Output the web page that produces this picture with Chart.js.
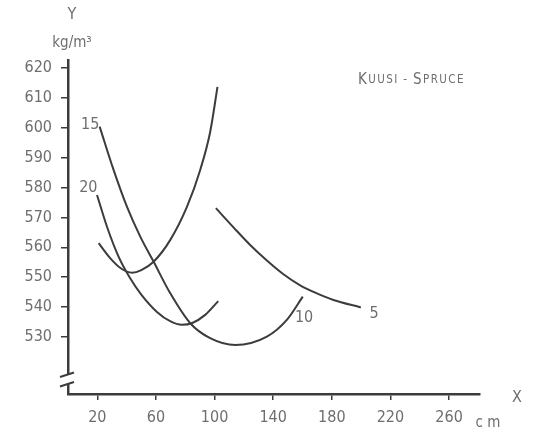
<!DOCTYPE html>
<html>
<head>
<meta charset="utf-8">
<script src="https://cdn.jsdelivr.net/npm/chart.js@4.4.1/dist/chart.umd.min.js"></script>
<style>
  html, body { margin: 0; padding: 0; background: #fff; }
  #wrap { width: 545px; height: 433px; position: relative; }
</style>
</head>
<body>
<div id="wrap"><canvas id="chart"></canvas></div>
<script>
// ================================
// Data
// ================================

const xTicks = [20, 60, 100, 140, 180, 220, 260];
const yTicks = [530, 540, 550, 560, 570, 580, 590, 600, 610, 620];

// curve labelled 15 at the top, 10 at its end
const curve15x = [21.6, 31.1, 40.2, 49.3, 58.2, 69.8, 83.4, 97.0, 114.1, 135.7, 149.3, 160.2];
const curve15y = [600.4, 585.9, 573.6, 563.6, 555.4, 544.6, 534.6, 529.6, 527.3, 530.1, 535.7, 543.5];

// curve labelled 20
const curve20x = [19.8, 26.6, 34.5, 42.0, 50.0, 60.7, 70.0, 77.7, 84.8, 93.6, 102.5];
const curve20y = [577.5, 566.9, 556.9, 550.0, 544.2, 538.4, 535.2, 534.1, 534.7, 537.4, 542.0];

// unlabelled U-shaped curve
const curveUx = [20.9, 28.9, 36.0, 43.7, 50.0, 58.4, 69.8, 81.2, 90.2, 97.0, 102.0];
const curveUy = [561.4, 556.3, 553.0, 551.5, 552.4, 555.2, 562.5, 573.6, 585.9, 598.6, 613.7];

// curve labelled 5
const curve5x = [100.9, 112.9, 124.3, 135.7, 147.0, 158.4, 169.8, 181.1, 199.8];
const curve5y = [573.1, 566.7, 560.8, 555.6, 551.0, 547.3, 544.6, 542.4, 539.9];

const curveLabels = ["15", "20", "10", "5"];
const curveLabelX = [15.2, 13.9, 161.1, 208.9];
const curveLabelY = [600.9, 579.9, 536.4, 537.7];

// ================================
// Helpers
// ================================

const FONT = "'Liberation Sans Narrow', 'DejaVu Sans Condensed', sans-serif";
const TEXT = "#6e6e6e";
const INK = "#3c3c3c";

function toPoints(xs, ys) {
    return xs.map((x, i) => ({ x: x, y: ys[i] }));
}

function curve(xs, ys) {
    return {
        data: toPoints(xs, ys),
        showLine: true,
        borderColor: INK,
        borderWidth: 2,
        pointRadius: 0,
        cubicInterpolationMode: "monotone",
        fill: false
    };
}

// small caps title, drawn letter by letter
function smallCaps(ctx, text, x, y) {
    let cx = x;
    for (const ch of text) {
        const big = ch === "K" || ch === "S";
        ctx.font = (big ? "15px " : "11.5px ") + FONT;
        const c = ch.toUpperCase();
        ctx.fillText(c, cx, y);
        cx += ctx.measureText(c).width + 1.4;
    }
}

// ================================
// Decorations: axis break, titles, curve labels
// ================================

const decorations = {
    id: "decorations",
    afterDraw(chart) {
        const ctx = chart.ctx;
        const xs = chart.scales.x;
        const ys = chart.scales.y;
        const left = chart.chartArea.left;

        ctx.save();

        // break in the y axis
        ctx.fillStyle = "#fff";
        ctx.fillRect(left - 3, 375, 6, 9);
        ctx.strokeStyle = INK;
        ctx.lineWidth = 2;
        ctx.beginPath();
        ctx.moveTo(left - 8, 377);
        ctx.lineTo(left + 6, 372.5);
        ctx.moveTo(left - 8, 386.5);
        ctx.lineTo(left + 6, 382);
        ctx.stroke();

        ctx.fillStyle = TEXT;
        ctx.textAlign = "center";
        ctx.textBaseline = "middle";

        ctx.font = "16px " + FONT;
        ctx.fillText("Y", 72, 15);
        ctx.font = "15px " + FONT;
        ctx.fillText("kg/m³", 72, 43);
        ctx.font = "16px " + FONT;
        ctx.fillText("X", 517, 398);
        ctx.font = "15px " + FONT;
        ctx.fillText("c m", 488, 423);

        ctx.font = "16px " + FONT;
        curveLabels.forEach((t, i) => {
            ctx.fillText(t, xs.getPixelForValue(curveLabelX[i]), ys.getPixelForValue(curveLabelY[i]));
        });

        ctx.textAlign = "left";
        smallCaps(ctx, "Kuusi - Spruce", 358, 80);

        ctx.restore();
    }
};

// ================================
// Chart
// ================================

new Chart(document.getElementById("chart"), {
    type: "scatter",
    data: {
        datasets: [
            curve(curve15x, curve15y),
            curve(curve20x, curve20y),
            curve(curveUx, curveUy),
            curve(curve5x, curve5y)
        ]
    },
    options: {
        responsive: true,
        maintainAspectRatio: false,
        animation: false,
        layout: { padding: { top: 60, right: 65, left: 0, bottom: 0 } },
        plugins: {
            legend: { display: false },
            tooltip: { enabled: false }
        },
        scales: {
            x: {
                type: "linear",
                min: 0,
                max: 281.1,
                afterBuildTicks: s => { s.ticks = xTicks.map(v => ({ value: v })); },
                afterFit: s => { s.height = 39; },
                grid: { drawOnChartArea: false, drawTicks: true, tickLength: 6, color: INK, lineWidth: 1.5 },
                border: { display: true, color: INK, width: 2.5 },
                ticks: { color: TEXT, padding: 8, font: { family: FONT, size: 16 } }
            },
            y: {
                type: "linear",
                min: 510.93,
                max: 622.68,
                afterBuildTicks: s => { s.ticks = yTicks.map(v => ({ value: v })); },
                afterFit: s => { s.width = 68; },
                grid: { drawOnChartArea: false, drawTicks: true, tickLength: 7, color: INK, lineWidth: 1.5 },
                border: { display: true, color: INK, width: 2.5 },
                ticks: { color: TEXT, padding: 9, font: { family: FONT, size: 16 } }
            }
        }
    },
    plugins: [decorations]
});
</script>
</body>
</html>
